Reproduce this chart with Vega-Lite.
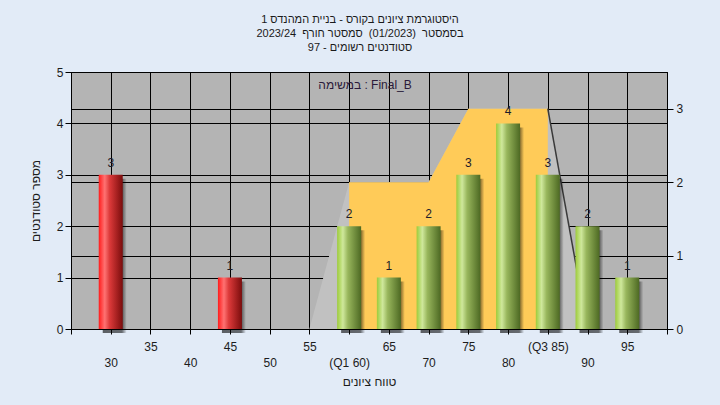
{
  "$schema": "https://vega.github.io/schema/vega-lite/v6.json",
  "width": 596,
  "height": 257,
  "autosize": {"type": "none"},
  "padding": {"left": 71, "top": 72, "right": 53, "bottom": 76},
  "background": "#e2ebf7",
  "config": {
    "view": {"fill": "#b4b4b4", "stroke": "#000000", "strokeWidth": 1},
    "font": "Liberation Sans",
    "axis": {
      "domainColor": "#000000",
      "tickColor": "#000000",
      "gridColor": "#000000",
      "gridOpacity": 1,
      "gridWidth": 1,
      "labelColor": "#1c1c1c",
      "labelFontSize": 12,
      "labelFont": "Liberation Sans",
      "titleFont": "Liberation Sans",
      "titleFontSize": 12,
      "titleFontWeight": "normal",
      "titleColor": "#1c1c1c"
    }
  },
  "title": {
    "text": ["היסטוגרמת ציונים בקורס - בניית המהנדס 1", "בסמסטר\u00a0 (01/2023)\u00a0 סמסטר חורף\u00a0 2023/24", "סטודנטים רשומים - 97"],
    "fontSize": 11,
    "fontWeight": "normal",
    "font": "Liberation Sans",
    "color": "#1a1a1a",
    "anchor": "middle",
    "frame": "group",
    "dx": -9,
    "offset": 13,
    "lineHeight": 14
  },
  "layer": [
    {
      "encoding": {
        "x": {
          "field": "grade",
          "type": "quantitative",
          "scale": {"domain": [25, 100], "nice": false, "zero": false, "padding": 0},
          "axis": {
            "values": [25, 30, 35, 40, 45, 50, 55, 60, 65, 70, 75, 80, 85, 90, 95, 100],
            "labelExpr": "datum.value == 60 ? '(Q1 60)' : datum.value == 85 ? '(Q3 85)' : (datum.value == 25 || datum.value == 100) ? '' : datum.label",
            "labelPadding": {"condition": {"test": "datum.value % 10 == 0", "value": 23}, "value": 7},
            "labelOverlap": false,
            "labelFlush": false,
            "tickSize": 5,
            "grid": true,
            "title": "טווח ציונים",
            "titlePadding": 8
          }
        },
        "y": {
          "field": "v",
          "type": "quantitative",
          "scale": {"domain": [0, 3.5], "nice": false},
          "axis": {"orient": "right", "values": [0, 1, 2, 3], "grid": true, "tickSize": 6, "labelPadding": 3, "title": null}
        }
      },
      "layer": [
        {
          "data": {"values": [
            {"grade": 55, "v": 0}, {"grade": 60, "v": 2}, {"grade": 70, "v": 2},
            {"grade": 75, "v": 3}, {"grade": 85, "v": 3}, {"grade": 90, "v": 0}
          ]},
          "mark": {"type": "area", "color": "#c1c1c1", "opacity": 1}
        },
        {
          "data": {"values": [
            {"grade": 60, "v": 2}, {"grade": 70, "v": 2}, {"grade": 75, "v": 3}, {"grade": 85, "v": 3}
          ]},
          "mark": {"type": "area", "color": "#ffcb58", "opacity": 1}
        },
        {
          "data": {"values": [{"grade": 85, "v": 3}, {"grade": 90, "v": 0}]},
          "mark": {"type": "line", "color": "#3a3a3a", "strokeWidth": 1.5}
        }
      ]
    },
    {
      "data": {"values": [
        {"grade": 30, "count": 3, "group": "fail"},
        {"grade": 45, "count": 1, "group": "fail"},
        {"grade": 60, "count": 2, "group": "pass"},
        {"grade": 65, "count": 1, "group": "pass"},
        {"grade": 70, "count": 2, "group": "pass"},
        {"grade": 75, "count": 3, "group": "pass"},
        {"grade": 80, "count": 4, "group": "pass"},
        {"grade": 85, "count": 3, "group": "pass"},
        {"grade": 90, "count": 2, "group": "pass"},
        {"grade": 95, "count": 1, "group": "pass"}
      ]},
      "encoding": {
        "x": {
          "field": "grade",
          "type": "quantitative",
          "scale": {"domain": [25, 100], "nice": false, "zero": false, "padding": 0},
          "axis": {
            "values": [25, 30, 35, 40, 45, 50, 55, 60, 65, 70, 75, 80, 85, 90, 95, 100],
            "labelExpr": "datum.value == 60 ? '(Q1 60)' : datum.value == 85 ? '(Q3 85)' : (datum.value == 25 || datum.value == 100) ? '' : datum.label",
            "labelPadding": {"condition": {"test": "datum.value % 10 == 0", "value": 23}, "value": 7},
            "labelOverlap": false,
            "labelFlush": false,
            "tickSize": 5,
            "grid": true,
            "title": "טווח ציונים",
            "titlePadding": 8
          }
        },
        "y": {
          "field": "count",
          "type": "quantitative",
          "scale": {"domain": [0, 5], "nice": false},
          "axis": {"orient": "left", "values": [0, 1, 2, 3, 4, 5], "grid": true, "tickSize": 6, "labelPadding": 2, "title": "מספר סטודנטים", "titlePadding": 14}
        }
      },
      "layer": [
        {
          "mark": {
            "type": "bar",
            "width": 24,
            "xOffset": 4,
            "yOffset": 4,
            "y2Offset": 4,
            "fill": {
              "gradient": "linear", "x1": 0, "y1": 0, "x2": 1, "y2": 0,
              "stops": [
                {"offset": 0, "color": "rgba(0,0,0,0.6)"},
                {"offset": 0.8, "color": "rgba(0,0,0,0.55)"},
                {"offset": 1, "color": "rgba(0,0,0,0)"}
              ]
            }
          }
        },
        {
          "transform": [{"filter": "datum.group == 'fail'"}],
          "mark": {
            "type": "bar",
            "width": 24,
            "fill": {
              "gradient": "linear", "x1": 0, "y1": 0, "x2": 1, "y2": 0,
              "stops": [
                {"offset": 0, "color": "#ff1c1c"},
                {"offset": 0.25, "color": "#ff7272"},
                {"offset": 0.45, "color": "#dd3a3a"},
                {"offset": 1, "color": "#7a0c0c"}
              ]
            }
          }
        },
        {
          "transform": [{"filter": "datum.group == 'pass'"}],
          "mark": {
            "type": "bar",
            "width": 24,
            "fill": {
              "gradient": "linear", "x1": 0, "y1": 0, "x2": 1, "y2": 0,
              "stops": [
                {"offset": 0, "color": "#9dcc3a"},
                {"offset": 0.24, "color": "#cfe89c"},
                {"offset": 0.45, "color": "#98b65c"},
                {"offset": 1, "color": "#4d6923"}
              ]
            }
          }
        },
        {
          "mark": {"type": "text", "dy": -8, "baseline": "alphabetic", "fontSize": 12, "font": "Liberation Sans", "color": "#1c1c2a"},
          "encoding": {"text": {"field": "count"}}
        }
      ]
    },
    {
      "data": {"values": [{"note": "במשימה : Final_B"}]},
      "mark": {"type": "text", "fontSize": 12, "font": "Liberation Sans", "color": "#2a1a3a", "baseline": "middle", "align": "center"},
      "encoding": {
        "x": {
          "datum": 62,
          "type": "quantitative",
          "scale": {"domain": [25, 100], "nice": false, "zero": false, "padding": 0},
          "axis": {
            "values": [25, 30, 35, 40, 45, 50, 55, 60, 65, 70, 75, 80, 85, 90, 95, 100],
            "labelExpr": "datum.value == 60 ? '(Q1 60)' : datum.value == 85 ? '(Q3 85)' : (datum.value == 25 || datum.value == 100) ? '' : datum.label",
            "labelPadding": {"condition": {"test": "datum.value % 10 == 0", "value": 23}, "value": 7},
            "labelOverlap": false,
            "labelFlush": false,
            "tickSize": 5,
            "grid": true,
            "title": "טווח ציונים",
            "titlePadding": 8
          }
        },
        "y": {"datum": 4.75, "type": "quantitative", "scale": {"domain": [0, 5], "nice": false}, "axis": null},
        "text": {"field": "note", "type": "nominal"}
      }
    }
  ],
  "resolve": {"scale": {"y": "independent"}}
}
